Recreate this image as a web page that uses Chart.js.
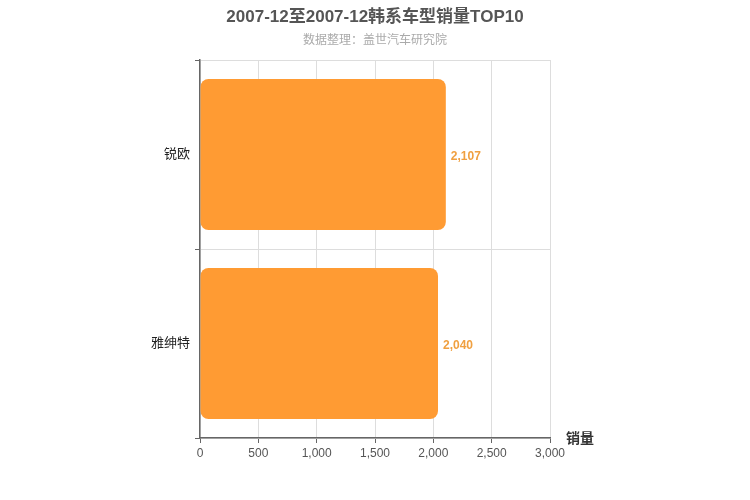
<!DOCTYPE html>
<html>
<head>
<meta charset="utf-8">
<script src="https://cdn.jsdelivr.net/npm/chart.js@4/dist/chart.umd.min.js"></script>
<style>
  html, body { margin: 0; padding: 0; background: #fff; }
  #wrap { width: 750px; height: 500px; }
</style>
</head>
<body>
<div id="wrap"><canvas id="c" width="750" height="500"></canvas></div>
<script>
const models = ["锐欧", "雅绅特"];
const sales = [2107, 2040];
const xTicks = [0, 500, 1000, 1500, 2000, 2500, 3000];

const FONT = "'Helvetica Neue', Arial, 'Noto Sans CJK SC', sans-serif";

// 标题 + 副标题 + 轴名
const headerText = {
  id: "headerText",
  afterDraw(chart) {
    const { ctx, chartArea } = chart;
    ctx.save();
    ctx.textAlign = "center";
    ctx.textBaseline = "middle";
    ctx.fillStyle = "#555";
    ctx.font = "bold 17px " + FONT;
    ctx.fillText("2007-12至2007-12韩系车型销量TOP10", 375, 17);
    ctx.fillStyle = "#aaa";
    ctx.font = "12px " + FONT;
    ctx.fillText("数据整理：盖世汽车研究院", 375, 41);
    ctx.fillStyle = "#333";
    ctx.font = "bold 14px " + FONT;
    ctx.fillText("销量", 580, chartArea.bottom + 1);
    ctx.restore();
  }
};

// 数值标签
const valueLabels = {
  id: "valueLabels",
  afterDatasetsDraw(chart) {
    const { ctx } = chart;
    const meta = chart.getDatasetMeta(0);
    ctx.save();
    ctx.font = "bold 12px " + FONT;
    ctx.fillStyle = "#f0a040";
    ctx.textAlign = "left";
    ctx.textBaseline = "middle";
    meta.data.forEach((bar, i) => {
      ctx.fillText(sales[i].toLocaleString("en-US"), bar.x + 5, bar.y + 2);
    });
    ctx.restore();
  }
};

new Chart(document.getElementById("c"), {
  type: "bar",
  data: {
    labels: models,
    datasets: [{
      data: sales,
      backgroundColor: "#ff9b33",
      borderRadius: 8,
      borderSkipped: false,
      barPercentage: 0.8,
      categoryPercentage: 1
    }]
  },
  options: {
    indexAxis: "y",
    responsive: false,
    animation: false,
    layout: { padding: { top: 60, right: 200, left: 0, bottom: 0 } },
    plugins: {
      legend: { display: false },
      tooltip: { enabled: false }
    },
    scales: {
      x: {
        min: 0,
        max: 3000,
        afterFit: s => { s.height = 62; },
        afterBuildTicks: s => { s.ticks = xTicks.map(v => ({ value: v })); },
        grid: { color: "#ddd", tickColor: "#666", tickLength: 5 },
        border: { color: "#666", width: 1.5 },
        ticks: {
          color: "#555",
          font: { size: 12, family: FONT },
          padding: 3,
          callback: v => v.toLocaleString("en-US")
        }
      },
      y: {
        afterFit: s => { s.width = 200; },
        grid: { color: "#ddd", tickColor: "#666", tickLength: 5, offset: true },
        border: { color: "#666", width: 1.5 },
        ticks: {
          color: "#222",
          font: { size: 13, family: FONT },
          padding: 5
        }
      }
    }
  },
  plugins: [headerText, valueLabels]
});
</script>
</body>
</html>
